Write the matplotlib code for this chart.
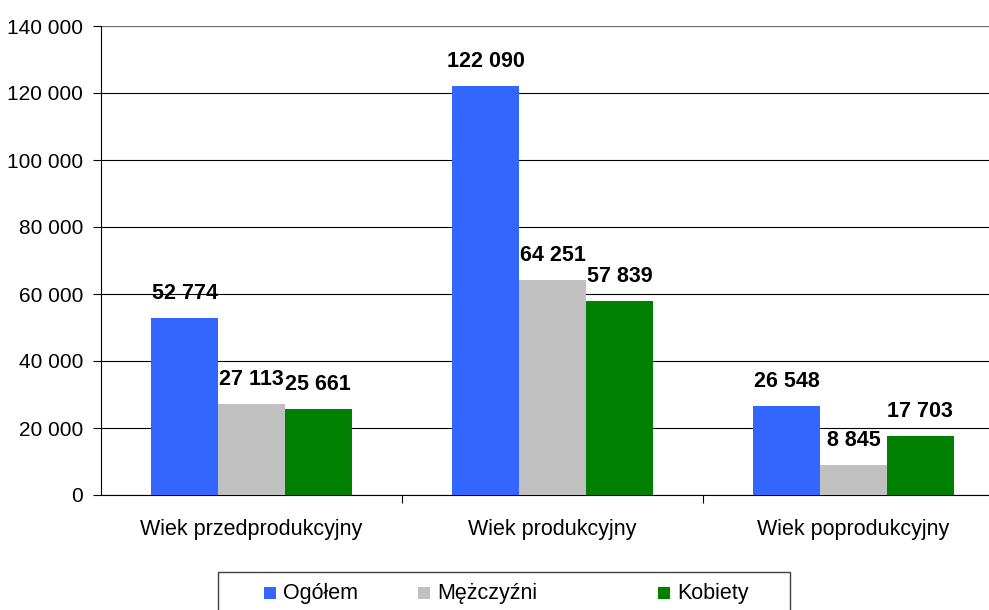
import numpy as np
import matplotlib
matplotlib.use('Agg')
import matplotlib.pyplot as plt
from matplotlib.patches import Rectangle

plt.rcParams['font.family'] = ['Liberation Sans', 'DejaVu Sans']

categories = ['Wiek przedprodukcyjny', 'Wiek produkcyjny', 'Wiek poprodukcyjny']
series_names = ['Ogółem', 'Mężczyźni', 'Kobiety']
ogolem = [52774, 122090, 26548]
mezczyzni = [27113, 64251, 8845]
kobiety = [25661, 57839, 17703]
colors = ['#3366ff', '#c0c0c0', '#008000']
yticks = [0, 20000, 40000, 60000, 80000, 100000, 120000, 140000]


def fmt(v):
    return f'{v:,}'.replace(',', ' ')


W, H = 989, 610
fig = plt.figure(figsize=(W / 100, H / 100), dpi=100)
ax = fig.add_axes([101 / W, 1 - 495 / H, 903 / W, 469 / H])

x = np.arange(len(categories))
w = 0.222
for i, (vals, name, c) in enumerate(zip([ogolem, mezczyzni, kobiety], series_names, colors)):
    pos = x + (i - 1) * w
    ax.bar(pos, vals, width=w, color=c, label=name, zorder=3)
    for p, v in zip(pos, vals):
        ax.annotate(fmt(v), (p, v), textcoords='offset points', xytext=(0, 10),
                    ha='center', va='bottom', fontsize=15.5, fontweight='bold')

ax.set_xlim(-0.5, 2.5)
ax.set_ylim(0, 140000)
ax.set_yticks(yticks)
ax.set_yticklabels([fmt(t) for t in yticks], fontsize=15)
ax.yaxis.grid(True, color='black', linewidth=0.8, zorder=0)
ax.set_axisbelow(True)

ax.set_xticks([0.5, 1.5])
ax.set_xticklabels(['', ''])
ax.set_xticks(x, minor=True)
ax.set_xticklabels(categories, minor=True, fontsize=15.5)
ax.tick_params(axis='x', which='minor', length=0, pad=17)
ax.tick_params(axis='x', which='major', length=6, direction='out')
ax.tick_params(axis='y', length=6, direction='out', pad=7)

for s in ['top', 'right']:
    ax.spines[s].set_visible(False)
ax.spines['left'].set_color('black')
ax.spines['bottom'].set_color('black')
ax.axhline(140000, color='#808080', linewidth=1.2, zorder=1)

# legend box, drawn by hand (Excel-style spacing)
fig.patches.append(Rectangle((218 / W, 1 - 614 / H), 572 / W, 42 / H,
                             transform=fig.transFigure, facecolor='white',
                             edgecolor='#404040', linewidth=1))
leg_x = [264, 418, 658]
for lx, name, c in zip(leg_x, series_names, colors):
    fig.patches.append(Rectangle((lx / W, 1 - 599 / H), 12 / W, 12 / H,
                                 transform=fig.transFigure, facecolor=c,
                                 edgecolor='none'))
    fig.text((lx + 19) / W, 1 - 593 / H, name, fontsize=15.5,
             ha='left', va='center')

fig.savefig('out.png', dpi=100)
